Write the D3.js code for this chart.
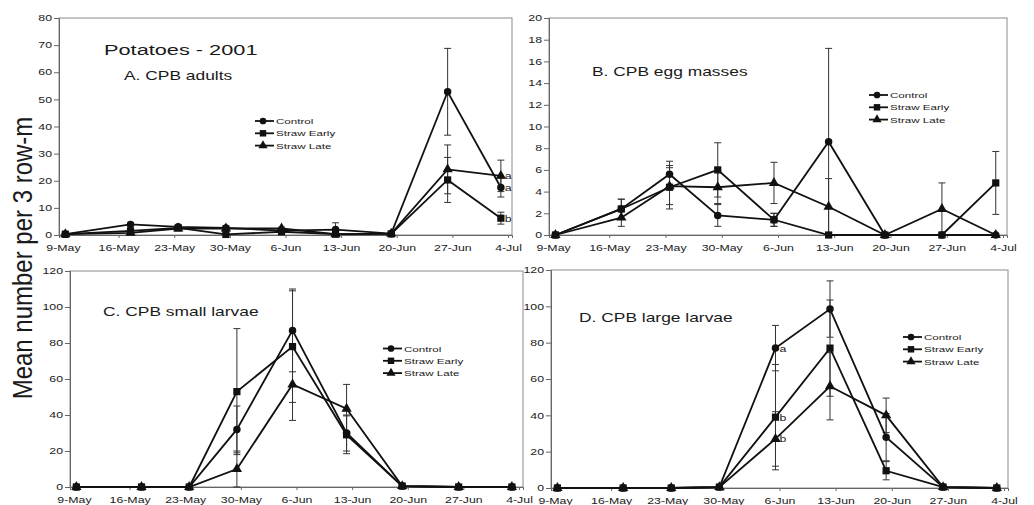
<!DOCTYPE html>
<html><head><meta charset="utf-8">
<script src="https://cdn.jsdelivr.net/npm/d3@7"></script>
<style>
body{margin:0;background:#fff}
svg{display:block}
text{font-family:"Liberation Sans",Arial,sans-serif;fill:#1a1a1a}
</style>
</head><body>
<svg id="chart" width="1034" height="505"></svg>
<script>
// ---------- data ----------
const tickLabels = ["9-May","16-May","23-May","30-May","6-Jun","13-Jun","20-Jun","27-Jun","4-Jul"];
const tickDays = [0, 7, 14, 21, 28, 35, 42, 49, 56];           // days after 9-May
const sampleDays = [0.3, 8.5, 14.5, 20.5, 27.5, 34.3, 41.3, 48.4, 55.1];
const seriesNames = ["Control", "Straw Early", "Straw Late"];

// A. CPB adults
const adultsControl = [0.3, 3.9, 3.0, 2.6, 1.6, 2.0, 0.5, 52.8, 17.5];
const adultsEarly   = [0.3, 1.5, 2.6, 0.2, 1.2, 0.3, 0.4, 20.3, 6.2];
const adultsLate    = [0.3, 0.8, 2.4, 2.4, 2.4, 0.3, 0.5, 24.2, 21.8];
const adultsControlErr = [0.2, 0.6, 0.5, 0.8, 0.6, 2.5, 0.2, 16, 3.5];
const adultsEarlyErr   = [0.2, 0.5, 0.4, 0.2, 0.4, 0.3, 0.2, 8.3, 2.2];
const adultsLateErr    = [0.2, 0.4, 0.5, 0.6, 0.5, 0.3, 0.2, 9.0, 5.8];
const adultsLetters = ["a", "b", "a"]; // at 4-Jul: Control, Early, Late

// B. CPB egg masses
const eggsControl = [0, 2.4, 5.6, 1.8, 1.4, 8.6, 0, 0, 0];
const eggsEarly   = [0, 2.4, 4.4, 6.0, 1.4, 0, 0, 0, 4.8];
const eggsLate    = [0, 1.6, 4.5, 4.4, 4.8, 2.6, 0, 2.4, 0];
const eggsControlErr = [0, 0.9, 1.2, 1.0, 0.6, 8.6, 0, 0, 0];
const eggsEarlyErr   = [0, 0.9, 2.0, 2.5, 0.6, 0, 0, 0, 2.9];
const eggsLateErr    = [0, 0.8, 1.7, 1.5, 1.9, 2.6, 0, 2.4, 0];

// C. CPB small larvae
const smallControl = [0, 0, 0, 32, 87, 30, 0.5, 0, 0];
const smallEarly   = [0, 0, 0, 53, 78, 29, 0.5, 0, 0];
const smallLate    = [0, 0, 0, 10, 57, 43.5, 0.5, 0, 0];
const smallControlErr = [0, 0, 0, 13, 23, 10, 0, 0, 0];
const smallEarlyErr   = [0, 0, 0, 35, 31, 10.5, 0, 0, 0];
const smallLateErr    = [0, 0, 0, 10, 20, 13.5, 0, 0, 0];

// D. CPB large larvae
const largeControl = [0, 0, 0, 0.5, 77, 98.5, 28, 0.5, 0];
const largeEarly   = [0, 0, 0, 0.5, 39, 77, 9.5, 0.5, 0];
const largeLate    = [0, 0, 0, 0.5, 27, 56, 40, 0.5, 0];
const largeControlErr = [0, 0, 0, 0, 12.5, 15.5, 13, 0, 0];
const largeEarlyErr   = [0, 0, 0, 0, 29, 26.5, 5, 0, 0];
const largeLateErr    = [0, 0, 0, 0, 15, 18.5, 9.5, 0, 0];
const largeLetters = ["a", "b", "b"]; // at 6-Jun: Control, Early, Late

// ---------- drawing ----------
const SX = 1.45; // horizontal stretch of the original scan
const svg = d3.select("#chart");
const symbols = [d3.symbolCircle, d3.symbolSquare, d3.symbolTriangle];
const symSizes = [44, 52, 46];

function stretchedText(parent, x, y, str, size, anchor) {
  return parent.append("text")
    .attr("transform", `translate(${x},${y}) scale(${SX},1)`)
    .attr("text-anchor", anchor || "start")
    .attr("font-size", size)
    .text(str);
}

const panels = [
  {left: 59, right: 512, top: 18, bottom: 235, yMax: 80, yStep: 10,
   values: [adultsControl, adultsEarly, adultsLate],
   errors: [adultsControlErr, adultsEarlyErr, adultsLateErr],
   title: "A. CPB adults", tx: 124, ty: 80,
   legend: {x: 255, y: 121},
   letters: adultsLetters, letterIdx: 8},
  {left: 549, right: 1007, top: 18, bottom: 235, yMax: 20, yStep: 2,
   values: [eggsControl, eggsEarly, eggsLate],
   errors: [eggsControlErr, eggsEarlyErr, eggsLateErr],
   title: "B. CPB egg masses", tx: 592, ty: 76,
   legend: {x: 869, y: 95}},
  {left: 70, right: 523, top: 271, bottom: 487, yMax: 120, yStep: 20,
   values: [smallControl, smallEarly, smallLate],
   errors: [smallControlErr, smallEarlyErr, smallLateErr],
   title: "C. CPB small larvae", tx: 103, ty: 316,
   legend: {x: 383, y: 348.5}},
  {left: 551, right: 1008, top: 270, bottom: 488, yMax: 120, yStep: 20,
   values: [largeControl, largeEarly, largeLate],
   errors: [largeControlErr, largeEarlyErr, largeLateErr],
   title: "D. CPB large larvae", tx: 579, ty: 321.5,
   legend: {x: 903, y: 337},
   letters: largeLetters, letterIdx: 4}
];

panels.forEach(p => {
  const x = d3.scaleLinear().domain([-0.5, 56.5]).range([p.left, p.right]);
  const y = d3.scaleLinear().domain([0, p.yMax]).range([p.bottom, p.top]);
  const g = svg.append("g");

  // plot-area border
  g.append("rect")
    .attr("x", p.left).attr("y", p.top)
    .attr("width", p.right - p.left).attr("height", p.bottom - p.top)
    .attr("fill", "none").attr("stroke", "#8a8a8a").attr("stroke-width", 1);

  // y axis
  const ya = d3.axisLeft(y).tickValues(d3.range(0, p.yMax + 1e-9, p.yStep)).tickSize(5).tickPadding(2);
  const yg = g.append("g").attr("transform", `translate(${p.left},0)`).call(ya);
  yg.attr("font-family", null).attr("font-size", null);
  yg.select(".domain").attr("stroke", "#666");
  yg.selectAll(".tick line").attr("stroke", "#666");
  yg.selectAll(".tick text")
    .attr("x", -7 / SX).attr("transform", `scale(${SX},1)`)
    .attr("font-size", 8.5).attr("fill", "#1a1a1a");

  // x axis
  const xa = d3.axisBottom(x).tickValues(tickDays).tickFormat((d, i) => tickLabels[i]).tickSize(3).tickPadding(7);
  const xg = g.append("g").attr("transform", `translate(0,${p.bottom})`).call(xa);
  xg.attr("font-family", null).attr("font-size", null);
  xg.select(".domain").attr("stroke", "#666");
  xg.selectAll(".tick line").attr("stroke", "#666");
  xg.selectAll(".tick text")
    .attr("transform", `scale(${SX},1)`)
    .attr("font-size", 8.5).attr("fill", "#1a1a1a");

  // error bars
  p.values.forEach((vals, s) => {
    vals.forEach((v, i) => {
      const e = p.errors[s][i];
      if (!e) return;
      const cx = x(sampleDays[i]);
      const y1 = y(Math.max(0, v - e)), y2 = y(v + e);
      g.append("line").attr("x1", cx).attr("x2", cx).attr("y1", y1).attr("y2", y2)
        .attr("stroke", "#333").attr("stroke-width", 1);
      [y1, y2].forEach(yy => g.append("line")
        .attr("x1", cx - 3.5).attr("x2", cx + 3.5).attr("y1", yy).attr("y2", yy)
        .attr("stroke", "#333").attr("stroke-width", 1));
    });
  });

  // lines
  const line = d3.line().x((d, i) => x(sampleDays[i])).y(d => y(d));
  p.values.forEach(vals => {
    g.append("path").attr("d", line(vals))
      .attr("fill", "none").attr("stroke", "#111").attr("stroke-width", 1.8)
      .attr("stroke-linejoin", "miter");
  });

  // markers
  p.values.forEach((vals, s) => {
    vals.forEach((v, i) => {
      g.append("path")
        .attr("d", d3.symbol(symbols[s], symSizes[s])())
        .attr("transform", `translate(${x(sampleDays[i])},${y(v)})`)
        .attr("fill", "#111");
    });
  });

  // significance letters
  if (p.letters) {
    p.letters.forEach((l, s) => {
      const i = p.letterIdx;
      stretchedText(g, x(sampleDays[i]) + 4, y(p.values[s][i]) + 3.5, l, 8.5);
    });
  }

  // title
  stretchedText(g, p.tx, p.ty, p.title, 12);

  // legend
  seriesNames.forEach((name, s) => {
    const ly = p.legend.y + s * 12.3;
    g.append("line").attr("x1", p.legend.x).attr("x2", p.legend.x + 19)
      .attr("y1", ly).attr("y2", ly).attr("stroke", "#111").attr("stroke-width", 1.8);
    g.append("path").attr("d", d3.symbol(symbols[s], symSizes[s] * 0.8)())
      .attr("transform", `translate(${p.legend.x + 8},${ly})`).attr("fill", "#111");
    stretchedText(g, p.legend.x + 21, ly + 3, name, 8);
  });
});

// overall title and y label
stretchedText(svg, 104, 55, "Potatoes - 2001", 15);
svg.append("text")
  .attr("transform", "translate(32,258) scale(1.16,1) rotate(-90)")
  .attr("text-anchor", "middle")
  .attr("font-size", 24)
  .text("Mean number per 3 row-m");
</script>
</body></html>
